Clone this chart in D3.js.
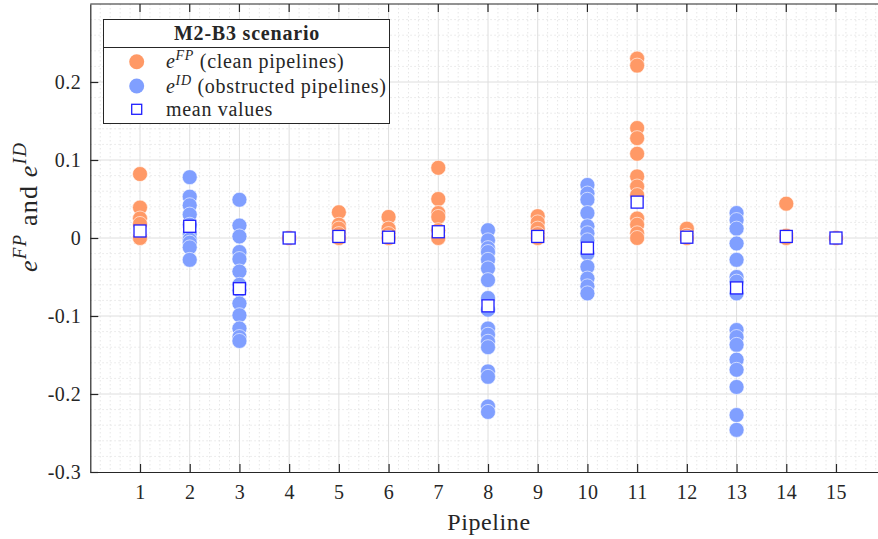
<!DOCTYPE html>
<meta charset="utf-8">
<style>
body { margin: 0; background: #fff; }
svg text { font-family: "Liberation Serif", "Times New Roman", serif; fill: #262626; }
.grid-major { stroke: #dedede; stroke-width: 1; }
.grid-minor { stroke: #e6e6e6; stroke-width: 1; stroke-dasharray: 1.5 2.5; }
</style>
<body>
<div id="chart"></div>
<script src="https://d3js.org/d3.v7.min.js"></script>
<script>
// pipelines on the x axis
var pipelines = [1, 2, 3, 4, 5, 6, 7, 8, 9, 10, 11, 12, 13, 14, 15];

// e^FP for clean pipelines (empty where pipeline is obstructed)
var fpErrors = [
	[0.082, 0.039, 0.025, 0.018, 0.002, 0, 0, 0, 0, 0, 0, 0, 0],
	[],
	[],
	[0, 0, 0, 0],
	[0.033, 0.017, 0.012, 0.005, 0, 0, 0],
	[0.027, 0.012, 0.005, 0, 0, 0],
	[0.09, 0.05, 0.032, 0.027, 0.01, 0, 0],
	[],
	[0.028, 0.02, 0.012, 0.005, 0, 0],
	[],
	[0.23, 0.221, 0.141, 0.128, 0.108, 0.079, 0.066, 0.055, 0.025, 0.017, 0.006, 0],
	[0.012, 0.003, 0, 0],
	[],
	[0.044, 0.003, 0, 0],
	[0, 0, 0]
];

// e^ID for obstructed pipelines
var idErrors = [
	[],
	[0.078, 0.053, 0.042, 0.03, 0.017, 0.005, -0.002, -0.006, -0.012, -0.028],
	[0.049, 0.016, 0.002, -0.018, -0.027, -0.043, -0.06, -0.067, -0.084, -0.099, -0.116, -0.127, -0.132],
	[],
	[],
	[],
	[],
	[0.01, -0.003, -0.013, -0.018, -0.028, -0.039, -0.054, -0.077, -0.092, -0.116, -0.124, -0.133, -0.14, -0.171, -0.178, -0.216, -0.223],
	[],
	[0.068, 0.057, 0.049, 0.032, 0.015, 0.006, -0.003, -0.02, -0.037, -0.052, -0.062, -0.071],
	[],
	[],
	[0.032, 0.023, 0.012, -0.007, -0.028, -0.05, -0.056, -0.071, -0.118, -0.127, -0.137, -0.156, -0.169, -0.191, -0.227, -0.246],
	[],
	[]
];

// mean value per pipeline
var meanValues = [0.009, 0.015, -0.065, 0, 0.002, 0.001, 0.008, -0.087, 0.002, -0.013, 0.046, 0.001, -0.064, 0.002, 0];

var yTicks = [-0.3, -0.2, -0.1, 0, 0.1, 0.2];
var yTickLabels = ["-0.3", "-0.2", "-0.1", "0", "0.1", "0.2"];

var width = 878,
	height = 539;

var serif = "Liberation Serif, Times New Roman, serif";

var colorFP = "#ff9966",
	colorID = "#809fff",
	colorMean = "#1f1fff";

var x = d3.scaleLinear().domain([0, 16]).range([90.3, 885.7]);
var y = d3.scaleLinear().domain([-0.3, 0.3]).range([472, 4]);

var svg = d3.select("#chart").append("svg")
	.attr("width", width)
	.attr("height", height);

// grid
var minorX = d3.range(0, 80).map(function(i) { return i * 0.2; }).filter(function(v) { return Math.abs(v - Math.round(v)) > 1e-6; });
var minorY = d3.range(-15, 16).map(function(i) { return i * 0.02; }).filter(function(v) { return Math.abs(v * 10 - Math.round(v * 10)) > 1e-6; });

svg.selectAll(".mx").data(minorX).enter().append("line")
	.attr("class", "grid-minor")
	.attr("x1", function(d) { return x(d); }).attr("x2", function(d) { return x(d); })
	.attr("y1", y(0.3)).attr("y2", y(-0.3));
svg.selectAll(".my").data(minorY).enter().append("line")
	.attr("class", "grid-minor")
	.attr("x1", x(0)).attr("x2", x(16))
	.attr("y1", function(d) { return y(d); }).attr("y2", function(d) { return y(d); });
svg.selectAll(".gx").data(d3.range(1, 16)).enter().append("line")
	.attr("class", "grid-major")
	.attr("x1", function(d) { return x(d); }).attr("x2", function(d) { return x(d); })
	.attr("y1", y(0.3)).attr("y2", y(-0.3));
svg.selectAll(".gy").data([-0.2, -0.1, 0, 0.1, 0.2]).enter().append("line")
	.attr("class", "grid-major")
	.attr("x1", x(0)).attr("x2", x(16))
	.attr("y1", function(d) { return y(d); }).attr("y2", function(d) { return y(d); });

// points
function flatten(arr) {
	var out = [];
	arr.forEach(function(vals, i) {
		vals.forEach(function(v) { out.push({ p: pipelines[i], v: v }); });
	});
	return out;
}

svg.append("g").selectAll("circle").data(flatten(fpErrors)).enter().append("circle")
	.attr("cx", function(d) { return x(d.p); })
	.attr("cy", function(d) { return y(d.v); })
	.attr("r", 7.5)
	.attr("fill", colorFP)
	.attr("stroke", "#fff")
	.attr("stroke-width", 0.6);

svg.append("g").selectAll("circle").data(flatten(idErrors)).enter().append("circle")
	.attr("cx", function(d) { return x(d.p); })
	.attr("cy", function(d) { return y(d.v); })
	.attr("r", 7.5)
	.attr("fill", colorID)
	.attr("stroke", "#fff")
	.attr("stroke-width", 0.6);

svg.append("g").selectAll("rect").data(meanValues).enter().append("rect")
	.attr("x", function(d, i) { return x(pipelines[i]) - 6; })
	.attr("y", function(d) { return y(d) - 6; })
	.attr("width", 12)
	.attr("height", 12)
	.attr("fill", "#fff")
	.attr("stroke", colorMean)
	.attr("stroke-width", 1.3);

// axes
var xAxis = d3.axisBottom(x).tickValues(pipelines).tickSizeInner(-8).tickSizeOuter(0).tickPadding(13);
var gx = svg.append("g").attr("transform", "translate(0," + y(-0.3) + ")").call(xAxis);
var yAxis = d3.axisLeft(y).tickValues(yTicks).tickSizeInner(-8).tickSizeOuter(0).tickPadding(9)
	.tickFormat(function(d, i) { return yTickLabels[i]; });
var gy = svg.append("g").attr("transform", "translate(" + x(0) + ",0)").call(yAxis);

[gx, gy].forEach(function(g) {
	g.attr("font-family", serif);
	g.select(".domain").attr("stroke", "#262626").attr("stroke-width", 1.2);
	g.selectAll(".tick line").attr("stroke", "#262626").attr("stroke-width", 1.2);
	g.selectAll(".tick text").attr("font-family", serif).attr("font-size", 20)
		.attr("letter-spacing", 0.5).attr("fill", "#262626");
});
gx.selectAll(".tick text").attr("dy", "0.71em");

// top border with ticks
svg.append("line").attr("x1", x(0)).attr("x2", x(16)).attr("y1", y(0.3)).attr("y2", y(0.3))
	.attr("stroke", "#262626").attr("stroke-width", 1.2);
svg.selectAll(".tt").data(pipelines).enter().append("line")
	.attr("x1", function(d) { return x(d); }).attr("x2", function(d) { return x(d); })
	.attr("y1", y(0.3)).attr("y2", y(0.3) + 8)
	.attr("stroke", "#262626").attr("stroke-width", 1.2);

// axis labels
svg.append("text")
	.attr("x", 489).attr("y", 530)
	.attr("text-anchor", "middle")
	.attr("font-family", serif)
	.attr("font-size", 24)
	.attr("letter-spacing", 0.6)
	.text("Pipeline");

var yl = svg.append("text")
	.attr("transform", "translate(37,207) rotate(-90)")
	.attr("text-anchor", "middle")
	.attr("font-family", serif)
	.attr("font-size", 26)
	.attr("letter-spacing", 1.2);
yl.append("tspan").attr("font-style", "italic").text("e");
yl.append("tspan").attr("font-style", "italic").attr("font-size", 19).attr("dy", -11).text("FP");
yl.append("tspan").attr("dy", 11).text(" and ");
yl.append("tspan").attr("font-style", "italic").text("e");
yl.append("tspan").attr("font-style", "italic").attr("font-size", 19).attr("dy", -11).text("ID");

// legend
var lg = svg.append("g").attr("font-family", serif);
lg.append("rect")
	.attr("x", 103.5).attr("y", 19.5).attr("width", 286).attr("height", 104)
	.attr("fill", "#fff").attr("stroke", "#262626").attr("stroke-width", 1);
lg.append("line")
	.attr("x1", 103.5).attr("x2", 389.5).attr("y1", 47.5).attr("y2", 47.5)
	.attr("stroke", "#262626").attr("stroke-width", 1);
lg.append("text")
	.attr("x", 247).attr("y", 39.5)
	.attr("text-anchor", "middle")
	.attr("font-family", serif)
	.attr("font-size", 20).attr("font-weight", "bold")
	.attr("letter-spacing", 0.8)
	.text("M2-B3 scenario");

var legendItems = [
	{ sym: "e", sup: "FP", rest: " (clean pipelines)", color: colorFP, cy: 61.7 },
	{ sym: "e", sup: "ID", rest: " (obstructed pipelines)", color: colorID, cy: 86 }
];
legendItems.forEach(function(it) {
	lg.append("circle").attr("cx", 136.7).attr("cy", it.cy).attr("r", 7.5).attr("fill", it.color);
	var t = lg.append("text").attr("x", 166).attr("y", it.cy + 6.5)
		.attr("font-family", serif).attr("font-size", 20).attr("letter-spacing", 0.7);
	t.append("tspan").attr("font-style", "italic").text(it.sym);
	t.append("tspan").attr("font-style", "italic").attr("font-size", 14).attr("dy", -8).text(it.sup);
	t.append("tspan").attr("dy", 8).text(it.rest);
});
lg.append("rect")
	.attr("x", 131.7).attr("y", 104.3).attr("width", 10).attr("height", 10)
	.attr("fill", "#fff").attr("stroke", colorMean).attr("stroke-width", 1.3);
lg.append("text").attr("x", 166).attr("y", 115.5)
	.attr("font-family", serif).attr("font-size", 20).attr("letter-spacing", 0.7)
	.text("mean values");
</script>
</body>
